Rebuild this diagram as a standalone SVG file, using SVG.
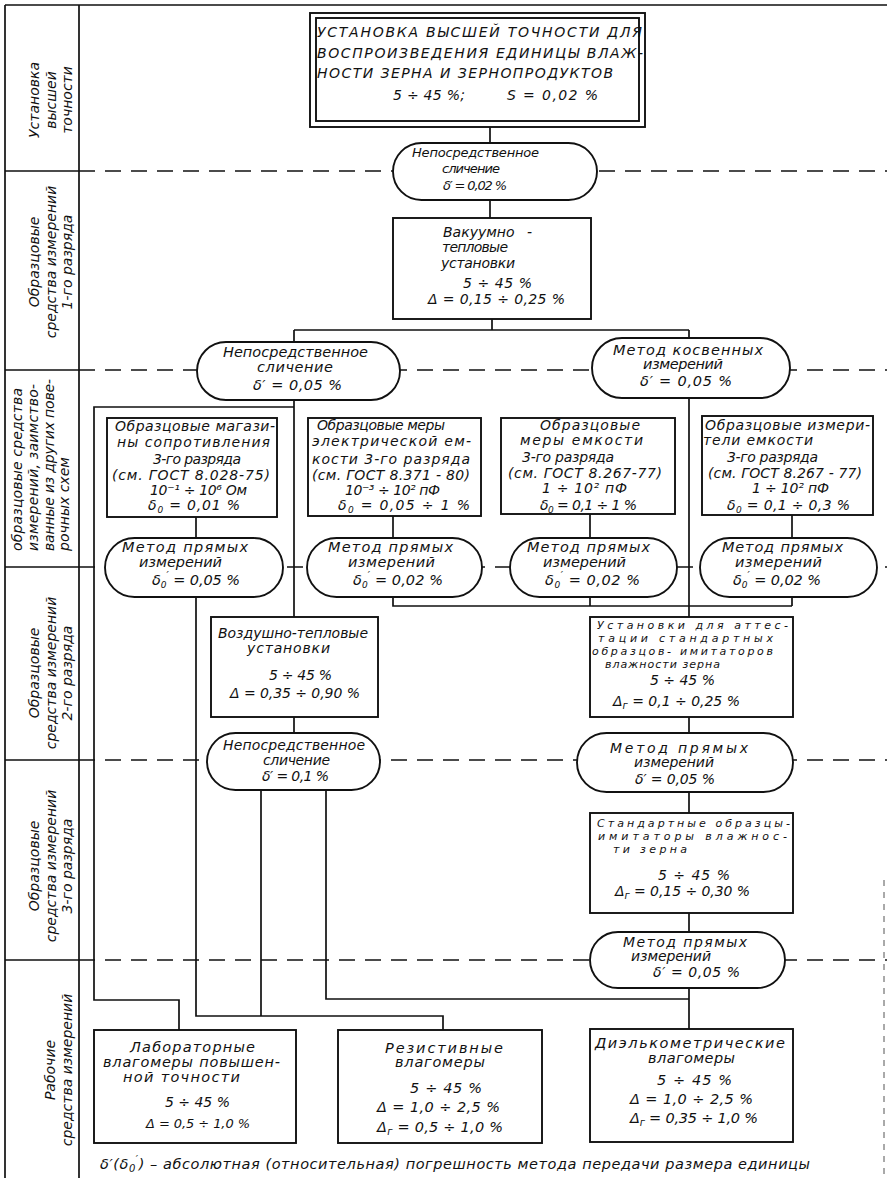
<svg xmlns="http://www.w3.org/2000/svg" width="887" height="1178" viewBox="0 0 887 1178">
<style>
.bg{fill:#fff}
.ln{stroke:#111;stroke-width:1.7;fill:none}
.dash{stroke:#111;stroke-width:1.7;fill:none;stroke-dasharray:16 10}
.node{fill:#fff;stroke:#111;stroke-width:1.9}
text{font-family:"DejaVu Sans","Liberation Sans",sans-serif;font-style:italic;fill:#111;font-size:14px}
.t14{font-size:14.5px}
.t13{font-size:13px}
.t12{font-size:13px}
.t11{font-size:11px}
.lab{font-size:14px}
</style>
<rect class="bg" x="0" y="0" width="887" height="1178"/>

<g id="frame">
<path class="ln" d="M5,5 H887 M5,5 V1178 M79,5 V1178 M5,171 H79 M5,370 H79 M5,567 H79 M5,760 H79 M5,960 H79"/>
<path d="M884,880 V1178" stroke="#555" stroke-width="1" stroke-dasharray="6 6" fill="none"/>
</g>

<g id="row-labels">
<text class="lab" text-anchor="middle" transform="translate(39,100) rotate(-90)">Установка</text>
<text class="lab" text-anchor="middle" transform="translate(56,100) rotate(-90)">высшей</text>
<text class="lab" text-anchor="middle" transform="translate(72,100) rotate(-90)">точности</text>

<text class="lab" text-anchor="middle" transform="translate(39,262) rotate(-90)">Образцовые</text>
<text class="lab" text-anchor="middle" transform="translate(56,262) rotate(-90)">средства измерений</text>
<text class="lab" text-anchor="middle" transform="translate(72,262) rotate(-90)">1-го разряда</text>

<text class="lab" transform="translate(22,551) rotate(-90)" textLength="163" lengthAdjust="spacing">образцовые средства</text>
<text class="lab" transform="translate(38,551) rotate(-90)" textLength="167" lengthAdjust="spacing">измерений, заимство-</text>
<text class="lab" transform="translate(54,551) rotate(-90)" textLength="172" lengthAdjust="spacing">ванные из других пове-</text>
<text class="lab" transform="translate(69,551) rotate(-90)">рочных схем</text>

<text class="lab" text-anchor="middle" transform="translate(39,673) rotate(-90)">Образцовые</text>
<text class="lab" text-anchor="middle" transform="translate(56,673) rotate(-90)">средства измерений</text>
<text class="lab" text-anchor="middle" transform="translate(72,673) rotate(-90)">2-го разряда</text>

<text class="lab" text-anchor="middle" transform="translate(39,866) rotate(-90)">Образцовые</text>
<text class="lab" text-anchor="middle" transform="translate(56,866) rotate(-90)">средства измерений</text>
<text class="lab" text-anchor="middle" transform="translate(72,866) rotate(-90)">3-го разряда</text>

<text class="lab" text-anchor="middle" transform="translate(55,1070) rotate(-90)">Рабочие</text>
<text class="lab" text-anchor="middle" transform="translate(72,1070) rotate(-90)">средства измерений</text>
</g>

<g id="level-lines">
<path class="dash" d="M79,171 H887 M79,370 H887 M79,567 H887 M79,760 H887 M79,960 H887"/>
</g>

<g id="connectors">
<path class="ln" d="M490,127 V143 M490,200 V218"/>
<path class="ln" d="M492,319 V330 M294,330 H689 M294,330 V342 M689,330 V338"/>
<path class="ln" d="M294,400 V617 M294,407 H94 V1000 H179 V1030"/>
<path class="ln" d="M196,517 V538 M196,597 V1016 H443 V1030"/>
<path class="ln" d="M393,516 V538 M393,597 V606 H792 M590,514 V538 M590,597 V606 M792,515 V538 M792,597 V606"/>
<path class="ln" d="M689,398 V617"/>
<path class="ln" d="M294,717 V733 M261,790 V1016 M326,790 V999 H689"/>
<path class="ln" d="M689,717 V733 M689,792 V813 M689,913 V932 M689,988 V1029"/>
</g>

<g id="n-top">
<rect class="node" x="310" y="13" width="335" height="114"/>
<rect class="node" x="316" y="18" width="323" height="103"/>
<text x="317" y="37" textLength="325" lengthAdjust="spacing">УСТАНОВКА ВЫСШЕЙ ТОЧНОСТИ ДЛЯ</text>
<text x="317" y="58" textLength="326" lengthAdjust="spacing">ВОСПРОИЗВЕДЕНИЯ ЕДИНИЦЫ ВЛАЖ-</text>
<text x="317" y="78" textLength="296" lengthAdjust="spacing">НОСТИ ЗЕРНА И ЗЕРНОПРОДУКТОВ</text>
<text x="393" y="100" textLength="72" lengthAdjust="spacing">5 ÷ 45 %;</text>
<text x="507" y="100" textLength="91" lengthAdjust="spacing">S = 0,02 %</text>
</g>

<g id="p-1">
<rect class="node" x="393" y="143" width="204" height="57" rx="28.5"/>
<text class="t13" x="412" y="157" textLength="127" lengthAdjust="spacing">Непосредственное</text>
<text class="t13" x="442" y="173" textLength="58" lengthAdjust="spacing">сличение</text>
<text class="t13" x="443" y="190" textLength="64" lengthAdjust="spacing">δ′ = 0,02 %</text>
</g>

<g id="n-vacuum">
<rect class="node" x="393" y="218" width="198" height="101"/>
<text x="443" y="237">Вакуумно<tspan dx="8"> -</tspan></text>
<text x="442" y="252" textLength="66" lengthAdjust="spacing">тепловые</text>
<text x="441" y="268" textLength="74" lengthAdjust="spacing">установки</text>
<text x="463" y="288" textLength="69" lengthAdjust="spacing">5 ÷ 45 %</text>
<text x="428" y="304" textLength="137" lengthAdjust="spacing">Δ = 0,15 ÷ 0,25 %</text>
</g>

<g id="p-2">
<rect class="node" x="197" y="342" width="203" height="58" rx="29"/>
<text class="t14" x="223" y="357" textLength="145" lengthAdjust="spacing">Непосредственное</text>
<text class="t14" x="257" y="372" textLength="76" lengthAdjust="spacing">сличение</text>
<text class="t14" x="253" y="390" textLength="89" lengthAdjust="spacing">δ′ = 0,05 %</text>
</g>

<g id="p-3">
<rect class="node" x="592" y="338" width="198" height="60" rx="30"/>
<text class="t14" x="613" y="355" textLength="150" lengthAdjust="spacing">Метод косвенных</text>
<text class="t14" x="643" y="369" textLength="80" lengthAdjust="spacing">измерений</text>
<text class="t14" x="640" y="386" textLength="92" lengthAdjust="spacing">δ′ = 0,05 %</text>
</g>

<g id="n-box1">
<rect class="node" x="107" y="418" width="170" height="99"/>
<text x="115" y="431" textLength="160" lengthAdjust="spacing">Образцовые магази-</text>
<text x="117" y="447" textLength="153" lengthAdjust="spacing">ны сопротивления</text>
<text x="153" y="464" textLength="88" lengthAdjust="spacing">3-го разряда</text>
<text x="112" y="480" textLength="158" lengthAdjust="spacing">(см. ГОСТ 8.028-75)</text>
<text x="150" y="495" textLength="97" lengthAdjust="spacing">10⁻¹ ÷ 10⁶ Ом</text>
<text x="148" y="510" textLength="92" lengthAdjust="spacing">δ<tspan font-size="9" dy="3">0</tspan><tspan dy="-3"> = 0,01 %</tspan></text>
</g>

<g id="n-box2">
<rect class="node" x="308" y="418" width="173" height="98"/>
<text x="317" y="430" textLength="128" lengthAdjust="spacing">Образцовые меры</text>
<text x="312" y="446" textLength="159" lengthAdjust="spacing">электрической ем-</text>
<text x="312" y="464" textLength="158" lengthAdjust="spacing">кости 3-го разряда</text>
<text x="312" y="480" textLength="158" lengthAdjust="spacing">(см. ГОСТ 8.371 - 80)</text>
<text x="345" y="495" textLength="95" lengthAdjust="spacing">10⁻³ ÷ 10² пФ</text>
<text x="338" y="510" textLength="132" lengthAdjust="spacing">δ<tspan font-size="9" dy="3">0</tspan><tspan dy="-3"> = 0,05 ÷ 1 %</tspan></text>
</g>

<g id="n-box3">
<rect class="node" x="501" y="418" width="174" height="96"/>
<text x="540" y="430" textLength="100" lengthAdjust="spacing">Образцовые</text>
<text x="520" y="445" textLength="123" lengthAdjust="spacing">меры емкости</text>
<text x="522" y="462" textLength="92" lengthAdjust="spacing">3-го разряда</text>
<text x="508" y="478" textLength="154" lengthAdjust="spacing">(см. ГОСТ 8.267-77)</text>
<text x="542" y="493" textLength="85" lengthAdjust="spacing">1 ÷ 10² пФ</text>
<text x="540" y="510" textLength="97" lengthAdjust="spacing">δ<tspan font-size="9" dy="3">0</tspan><tspan dy="-3"> = 0,1 ÷ 1 %</tspan></text>
</g>

<g id="n-box4">
<rect class="node" x="702" y="416" width="171" height="99"/>
<text x="705" y="430" textLength="165" lengthAdjust="spacing">Образцовые измери-</text>
<text x="703" y="445" textLength="110" lengthAdjust="spacing">тели емкости</text>
<text x="727" y="462" textLength="91" lengthAdjust="spacing">3-го разряда</text>
<text x="708" y="478" textLength="154" lengthAdjust="spacing">(см. ГОСТ 8.267 - 77)</text>
<text x="752" y="493" textLength="77" lengthAdjust="spacing">1 ÷ 10² пФ</text>
<text x="727" y="510" textLength="123" lengthAdjust="spacing">δ<tspan font-size="9" dy="3">0</tspan><tspan dy="-3"> = 0,1 ÷ 0,3 %</tspan></text>
</g>

<g id="p-a">
<rect class="node" x="105" y="538" width="178" height="59" rx="29.5"/>
<text class="t14" x="122" y="552" textLength="126" lengthAdjust="spacing">Метод прямых</text>
<text class="t14" x="139" y="567" textLength="83" lengthAdjust="spacing">измерений</text>
<text class="t14" x="152" y="585" textLength="88" lengthAdjust="spacing">δ<tspan font-size="9" dy="3">0</tspan><tspan font-size="10" dy="-9">′</tspan><tspan dy="6"> = 0,05 %</tspan></text>
</g>

<g id="p-b">
<rect class="node" x="307" y="538" width="175" height="59" rx="29.5"/>
<text class="t14" x="328" y="552" textLength="125" lengthAdjust="spacing">Метод прямых</text>
<text class="t14" x="348" y="567" textLength="87" lengthAdjust="spacing">измерений</text>
<text class="t14" x="353" y="585" textLength="90" lengthAdjust="spacing">δ<tspan font-size="9" dy="3">0</tspan><tspan font-size="10" dy="-9">′</tspan><tspan dy="6"> = 0,02 %</tspan></text>
</g>

<g id="p-c">
<rect class="node" x="510" y="538" width="167" height="59" rx="29.5"/>
<text class="t14" x="527" y="552" textLength="123" lengthAdjust="spacing">Метод прямых</text>
<text class="t14" x="543" y="567" textLength="83" lengthAdjust="spacing">измерений</text>
<text class="t14" x="545" y="585" textLength="95" lengthAdjust="spacing">δ<tspan font-size="9" dy="3">0</tspan><tspan font-size="10" dy="-9">′</tspan><tspan dy="6"> = 0,02 %</tspan></text>
</g>

<g id="p-d">
<rect class="node" x="700" y="538" width="177" height="59" rx="29.5"/>
<text class="t14" x="722" y="552" textLength="121" lengthAdjust="spacing">Метод прямых</text>
<text class="t14" x="735" y="567" textLength="87" lengthAdjust="spacing">измерений</text>
<text class="t14" x="733" y="585" textLength="88" lengthAdjust="spacing">δ<tspan font-size="9" dy="3">0</tspan><tspan font-size="10" dy="-9">′</tspan><tspan dy="6"> = 0,02 %</tspan></text>
</g>

<g id="n-air">
<rect class="node" x="211" y="617" width="167" height="100"/>
<text x="218" y="638" textLength="150" lengthAdjust="spacing">Воздушно-тепловые</text>
<text x="247" y="653" textLength="83" lengthAdjust="spacing">установки</text>
<text x="269" y="680" textLength="63" lengthAdjust="spacing">5 ÷ 45 %</text>
<text x="230" y="698" textLength="130" lengthAdjust="spacing">Δ = 0,35 ÷ 0,90 %</text>
</g>

<g id="n-attest">
<rect class="node" x="590" y="617" width="203" height="100"/>
<text class="t11" x="597" y="629" textLength="191" lengthAdjust="spacing">Установки для аттес-</text>
<text class="t11" x="598" y="642" textLength="175" lengthAdjust="spacing">тации стандартных</text>
<text class="t11" x="592" y="655" textLength="181" lengthAdjust="spacing">образцов- имитаторов</text>
<text class="t11" x="605" y="668" textLength="115" lengthAdjust="spacing">влажности зерна</text>
<text x="650" y="685" textLength="65" lengthAdjust="spacing">5 ÷ 45 %</text>
<text x="613" y="706" textLength="127" lengthAdjust="spacing">Δ<tspan font-size="10" dy="3">г</tspan><tspan dy="-3"> = 0,1 ÷ 0,25 %</tspan></text>
</g>

<g id="p-01">
<rect class="node" x="207" y="733" width="173" height="57" rx="28.5"/>
<text x="223" y="750" textLength="142" lengthAdjust="spacing">Непосредственное</text>
<text x="263" y="765" textLength="67" lengthAdjust="spacing">сличение</text>
<text x="262" y="781" textLength="67" lengthAdjust="spacing">δ′ = 0,1 %</text>
</g>

<g id="p-e">
<rect class="node" x="577" y="733" width="216" height="59" rx="29.5"/>
<text x="610" y="753" textLength="138" lengthAdjust="spacing">Метод   прямых</text>
<text x="634" y="767" textLength="80" lengthAdjust="spacing">измерений</text>
<text x="635" y="784" textLength="80" lengthAdjust="spacing">δ′ = 0,05 %</text>
</g>

<g id="n-standard">
<rect class="node" x="590" y="813" width="203" height="100"/>
<text class="t11" x="597" y="827" textLength="193" lengthAdjust="spacing">Стандартные образцы-</text>
<text class="t11" x="598" y="840" textLength="189" lengthAdjust="spacing">имитаторы влажнос-</text>
<text class="t11" x="613" y="853" textLength="74" lengthAdjust="spacing">ти зерна</text>
<text x="658" y="880" textLength="72" lengthAdjust="spacing">5 ÷ 45 %</text>
<text x="615" y="896" textLength="135" lengthAdjust="spacing">Δ<tspan font-size="10" dy="3">г</tspan><tspan dy="-3"> = 0,15 ÷ 0,30 %</tspan></text>
</g>

<g id="p-f">
<rect class="node" x="590" y="932" width="195" height="56" rx="28"/>
<text x="623" y="947" textLength="124" lengthAdjust="spacing">Метод прямых</text>
<text x="631" y="961" textLength="80" lengthAdjust="spacing">измерений</text>
<text x="653" y="977" textLength="87" lengthAdjust="spacing">δ′ = 0,05 %</text>
</g>

<g id="n-lab">
<rect class="node" x="94" y="1030" width="202" height="113"/>
<text class="t14" x="130" y="1052" textLength="125" lengthAdjust="spacing">Лабораторные</text>
<text class="t14" x="103" y="1067" textLength="177" lengthAdjust="spacing">влагомеры повышен-</text>
<text class="t14" x="123" y="1082" textLength="117" lengthAdjust="spacing">ной точности</text>
<text x="165" y="1107" textLength="65" lengthAdjust="spacing">5 ÷ 45 %</text>
<text class="t12" x="146" y="1128" textLength="104" lengthAdjust="spacing">Δ = 0,5 ÷ 1,0 %</text>
</g>

<g id="n-resist">
<rect class="node" x="338" y="1030" width="204" height="113"/>
<text class="t14" x="385" y="1053" textLength="118" lengthAdjust="spacing">Резистивные</text>
<text class="t14" x="395" y="1067" textLength="90" lengthAdjust="spacing">влагомеры</text>
<text class="t14" x="410" y="1093" textLength="72" lengthAdjust="spacing">5 ÷ 45 %</text>
<text class="t14" x="377" y="1112" textLength="123" lengthAdjust="spacing">Δ = 1,0 ÷ 2,5 %</text>
<text class="t14" x="377" y="1132" textLength="126" lengthAdjust="spacing">Δ<tspan font-size="10" dy="3">г</tspan><tspan dy="-3"> = 0,5 ÷ 1,0 %</tspan></text>
</g>

<g id="n-dielco">
<rect class="node" x="590" y="1029" width="203" height="113"/>
<text class="t14" x="595" y="1048" textLength="190" lengthAdjust="spacing">Диэлькометрические</text>
<text class="t14" x="648" y="1063" textLength="87" lengthAdjust="spacing">влагомеры</text>
<text class="t14" x="657" y="1085" textLength="75" lengthAdjust="spacing">5 ÷ 45 %</text>
<text class="t14" x="630" y="1104" textLength="123" lengthAdjust="spacing">Δ = 1,0 ÷ 2,5 %</text>
<text class="t14" x="630" y="1123" textLength="128" lengthAdjust="spacing">Δ<tspan font-size="10" dy="3">г</tspan><tspan dy="-3"> = 0,35 ÷ 1,0 %</tspan></text>
</g>

<g id="footnote">
<text class="t14" x="100" y="1169" textLength="710" lengthAdjust="spacing">δ′(δ<tspan font-size="10" dy="3">0</tspan><tspan font-size="10" dy="-9">′</tspan><tspan dy="6">) – абсолютная (относительная) погрешность метода передачи размера единицы</tspan></text>
</g>
</svg>
